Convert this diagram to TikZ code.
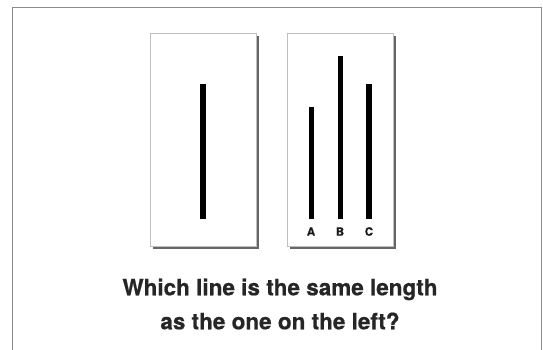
\documentclass[tikz,border=0pt]{standalone}
\usepackage{fontspec}
\setmainfont{TeX Gyre Heros}[BoldFeatures={FakeBold=0.6}]
\begin{document}
\begin{tikzpicture}[x=1pt,y=-1pt,
  card/.style={draw=gray!50,line width=0.8pt,fill=white},
  shadow/.style={fill=black!60,draw=none},
  bar/.style={fill=black,draw=none},
  lab/.style={font=\bfseries\fontsize{11.5}{12}\selectfont,text=black!90,inner sep=0pt,anchor=center},
  question/.style={font=\bfseries\fontsize{22.5}{34}\selectfont,text=black!85,align=center,inner sep=0pt}]
\useasboundingbox (0,0) rectangle (543,349);
\fill[white] (0,0) rectangle (543,349);
\draw[draw=black!45,line width=1pt] (12.5,360) -- (12.5,7.5) -- (541.5,7.5) -- (541.5,360);
% left card
\fill[shadow] (153,36) rectangle (259,249);
\draw[card] (150,33) rectangle (256,246);
\fill[bar] (200,84) rectangle (205.5,219);
% right card
\fill[shadow] (290,36) rectangle (396,249);
\draw[card] (287,33) rectangle (393,246);
\fill[bar] (308.5,107) rectangle (314,219);
\fill[bar] (337.5,56) rectangle (343,219);
\fill[bar] (366,84) rectangle (371.5,219);
\node[lab] (A) at (311,231.5) {A};
\node[lab] (B) at (340,231.5) {B};
\node[lab] (C) at (369,231.5) {C};
\node[question] (q) at (280,304) {Which line is the same length\\as the one on the left?};
\end{tikzpicture}
\end{document}
